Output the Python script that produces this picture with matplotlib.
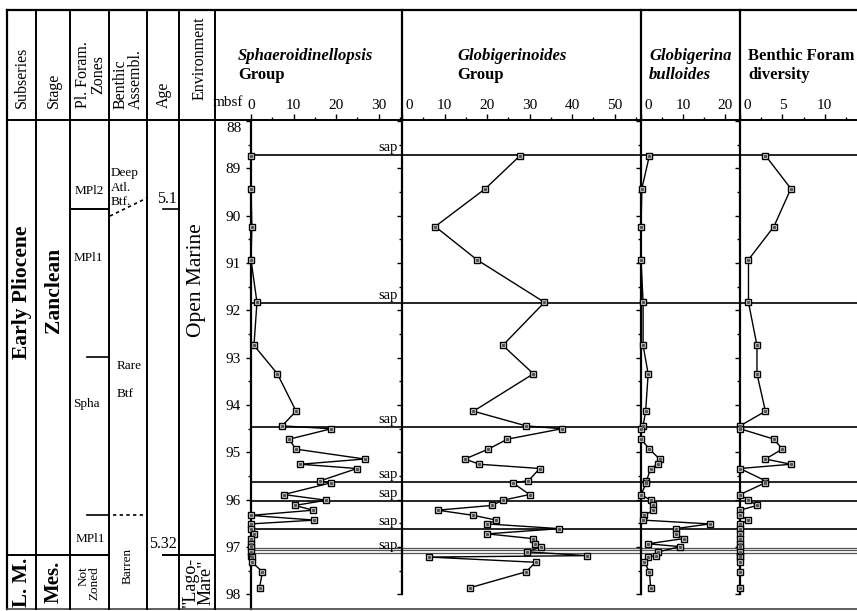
import matplotlib
matplotlib.use("Agg")
import matplotlib.pyplot as plt
from matplotlib.lines import Line2D
from matplotlib.ticker import MultipleLocator, FuncFormatter

plt.rcParams['font.family'] = ['Liberation Serif', 'DejaVu Serif']

W, H = 857, 611

# sample depths (mbsf)
depth = [88.73, 89.43, 90.23, 90.93, 91.83, 92.74, 93.34, 94.13, 94.44, 94.50,
         94.72, 94.93, 95.14, 95.25, 95.34, 95.60, 95.64, 95.89, 96.01, 96.12,
         96.22, 96.33, 96.43, 96.51, 96.61, 96.72, 96.82, 96.93, 96.99, 97.10,
         97.18, 97.21, 97.32, 97.52, 97.86]

spha_group = [0, 0, 0.2, 0, 1.4, 0.7, 6.2, 10.6, 7.3, 18.9,
              9.0, 10.5, 26.7, 11.6, 24.9, 16.3, 18.9, 7.7, 17.7, 10.3,
              14.6, 0, 14.9, 0, 0, 0.6, 0, 0, 0, 0,
              0, 0.3, 0.2, 2.7, 2.0]

globoides_group = [27.8, 19.6, 7.8, 17.6, 33.5, 23.7, 30.9, 16.8, 29.2, 37.6,
                   24.8, 20.3, 14.8, 18.2, 32.4, 29.7, 26.0, 30.0, 23.7, 21.1,
                   8.4, 16.8, 22.2, 20.0, 37.0, 20.0, 30.7, 31.2, 32.8, 29.5,
                   43.4, 6.3, 31.4, 29.2, 15.9]

bulloides = [2.0, 0.2, 0, 0, 0.5, 0.5, 1.7, 1.1, 0.5, 0,
             0, 2.0, 4.4, 4.0, 2.3, 1.3, 1.3, 0, 2.3, 2.9,
             2.9, 0.8, 0.5, 16.3, 8.2, 8.4, 10.1, 1.7, 9.3, 4.1,
             3.6, 1.7, 0.8, 2.0, 2.3]

benthic_div = [3, 6, 4, 1, 1, 2, 2, 3, 0, 0,
               4, 5, 3, 6, 0, 3, 3, 0, 1, 2,
               0, 0, 1, 0, 0, 0, 0, 0, 0, 0,
               0, 0, 0, 0, 0]

sap_depths = [88.72, 91.85, 94.46, 95.63, 96.03, 96.62]
sap_thin_depths = [97.01, 97.06, 97.12]

depth_top, depth_bot = 87.98, 98.307
AX_TOP, AX_BOT = 120, 609


def fx(x):
    return x / W


def fy(y):
    return 1 - y / H


fig = plt.figure(figsize=(W / 100, H / 100), dpi=100)


def line(x0, y0, x1, y1, **kw):
    kw.setdefault('color', 'black')
    kw.setdefault('lw', 1.4)
    fig.add_artist(Line2D([fx(x0), fx(x1)], [fy(y0), fy(y1)],
                          transform=fig.transFigure, **kw))


def text(x, y, s, **kw):
    kw.setdefault('fontsize', 11)
    fig.text(fx(x), fy(y), s, **kw)


# ---- panels ----
panels = [
    # left px, right px, xmax, ticks, minor, data, title lines, title x
    (251, 402, 35.5, [0, 10, 20, 30], 5, spha_group,
     [("Sphaeroidinellopsis", 'italic'), ("Group", 'normal')], 238),
    (402, 641, 56.2, [0, 10, 20, 30, 40, 50], 5, globoides_group,
     [("Globigerinoides", 'italic'), ("Group", 'normal')], 457),
    (641, 740, 23.5, [0, 10, 20], 5, bulloides,
     [("Globigerina", 'italic'), ("bulloides", 'italic')], 649),
    (740, 857, 13.8, [0, 5, 10], 2.5, benthic_div,
     [("Benthic Foram", 'normal'), ("diversity", 'normal')], 748),
]

for i, (left, right, xmax, ticks, minor, vals, titles, tx) in enumerate(panels):
    ax = fig.add_axes([fx(left), fy(AX_BOT), fx(right) - fx(left),
                       fy(AX_TOP) - fy(AX_BOT)])
    ax.set_facecolor('none')
    ax.set_xlim(0, xmax)
    ax.set_ylim(depth_bot, depth_top)
    ax.xaxis.tick_top()
    ax.set_xticks(ticks)
    labels = [str(t) for t in ticks]
    if i > 0:
        labels[0] = " 0"
    ax.set_xticklabels(labels)
    if i > 0:
        ax.get_xticklabels()[0].set_horizontalalignment('left')
    ax.xaxis.set_minor_locator(MultipleLocator(minor))
    ax.tick_params(axis='x', which='major', direction='out', length=4, width=1,
                   pad=1.5, labelsize=11)
    ax.tick_params(axis='x', which='minor', direction='out', length=2, width=1)
    ax.yaxis.set_major_locator(MultipleLocator(1))
    ax.yaxis.set_minor_locator(MultipleLocator(0.5))
    # the top label (88) is drawn separately, a little lower
    ax.yaxis.set_major_formatter(FuncFormatter(
        lambda v, p: "" if round(v) == 88 else f"{v:.0f}"))
    ax.tick_params(axis='y', which='major', direction='out', length=3.5, width=1,
                   labelsize=11, pad=4, labelleft=(i == 0))
    ax.tick_params(axis='y', which='minor', direction='out', length=2.5, width=1)
    for s in ('bottom', 'right'):
        ax.spines[s].set_visible(False)
    ax.spines['top'].set_linewidth(1.4)
    ax.spines['left'].set_linewidth(1.6)
    if i > 0:
        ax.spines['left'].set_bounds(depth_top, 98.0)
        line(left, 10, left, AX_TOP, lw=1.6)

    for d in sap_depths:
        ax.axhline(d, color='black', lw=1.2, zorder=1)
    for d in sap_thin_depths:
        ax.axhline(d, color='#555555', lw=0.9, zorder=1)

    ax.plot(vals, depth, color='black', lw=1, marker='s', ms=4.3,
            mfc='#e6e6e6', mec='black', mew=1.0, clip_on=False, zorder=3)
    ax.plot(vals, depth, ls='none', marker='s', ms=1.3, color='#555555',
            clip_on=False, zorder=4)

    if i == 0:
        for d in sap_depths + [sap_thin_depths[-1]]:
            ax.text(34.6, d - 0.02, "sap", ha='right', va='bottom', fontsize=10.5,
                    zorder=5)

    # panel titles
    text(tx, 56, titles[0][0], ha='left', va='center', fontsize=12,
         weight='bold', style=titles[0][1])
    text(tx, 75, titles[1][0], ha='left', va='center', fontsize=12,
         weight='bold', style=titles[1][1])

text(243, 103, "mbsf", ha='right', va='center', fontsize=11)
text(242, 129, "88", ha='right', va='center', fontsize=11)

# ---- stratigraphic table on the left ----
line(7, 10, 857, 10, lw=1.6)
line(7, 10, 7, 609, lw=1.6)
line(7, 609, 857, 609, lw=1.2, color='#444444')
for cx in (36, 70, 109, 147, 179, 215):
    line(cx, 10, cx, 609, lw=1.4)
line(7, AX_TOP, 251, AX_TOP, lw=1.4)
line(7, 555, 109, 555, lw=1.4)
line(70, 209, 109, 209, lw=1.4)
line(87, 357, 109, 357, lw=1.2)
line(87, 515, 109, 515, lw=1.2)
line(110, 216, 147, 198, lw=1.2, ls=(0, (2, 2)))
line(113, 515, 147, 515, lw=1.2, ls=(0, (2, 2)))
line(163, 209, 178, 209, lw=1.2)
line(163, 555, 215, 555, lw=1.4)

# header labels
hdr = dict(rotation=90, ha='center', va='bottom', fontsize=11.5)
text(22, 108, "Subseries", **hdr)
text(54, 108, "Stage", **hdr)
text(91, 108, "Pl. Foram.\nZones", multialignment='center', linespacing=0.95, **hdr)
text(128, 109, "Benthic\nAssembl.", multialignment='left', linespacing=0.95, **hdr)
text(164, 108, "Age", **hdr)
text(200, 100, "Environment", **hdr)

# body labels
text(22, 292, "Early Pliocene", rotation=90, ha='center', va='center',
     fontsize=15.5, weight='bold')
text(54, 290, "Zanclean", rotation=90, ha='center', va='center',
     fontsize=15.5, weight='bold')
text(197, 280, "Open Marine", rotation=90, ha='center', va='center', fontsize=15.5)
text(22, 582, "L. M.", rotation=90, ha='center', va='center', fontsize=15, weight='bold')
text(54, 582, "Mes.", rotation=90, ha='center', va='center', fontsize=15, weight='bold')
text(89, 583, "Not\nZoned", rotation=90, ha='center', va='center', fontsize=9.5,
     multialignment='right', linespacing=0.95)
text(128, 566, "Barren", rotation=90, ha='center', va='center', fontsize=9.5)
text(198, 582, "\"Lago-\nMare\"", rotation=90, ha='center', va='center', fontsize=13,
     linespacing=0.85)

text(89, 191, "MPl2", ha='center', va='center', fontsize=9.5)
text(88, 258, "MPl1", ha='center', va='center', fontsize=9.5)
text(86, 404, "Spha", ha='center', va='center', fontsize=9.5)
text(90, 539, "MPl1", ha='center', va='center', fontsize=9.5)

text(111, 173, "Deep", ha='left', va='center', fontsize=9.5)
text(111, 188, "Atl.", ha='left', va='center', fontsize=9.5)
text(111, 202, "Btf.", ha='left', va='center', fontsize=9.5)
text(117, 366, "Rare", ha='left', va='center', fontsize=9.5)
text(117, 394, "Btf", ha='left', va='center', fontsize=9.5)

text(167, 199, "5.1", ha='center', va='center', fontsize=11.5)
text(163, 544, "5.32", ha='center', va='center', fontsize=11.5)

fig.savefig("out.png", dpi=100)
